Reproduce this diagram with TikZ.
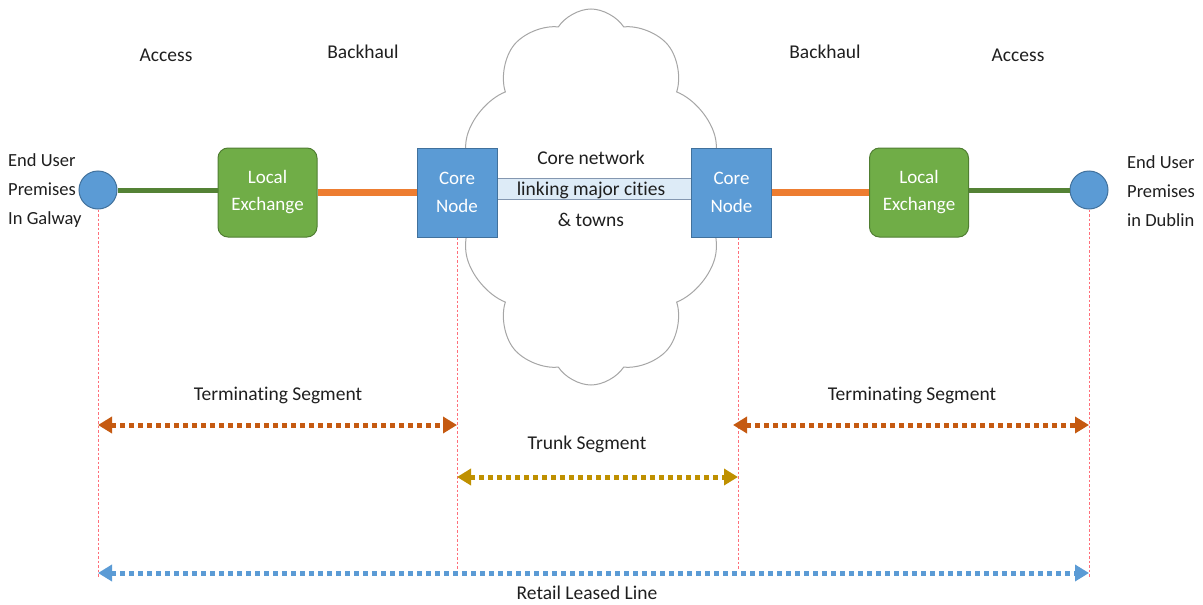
\documentclass[tikz,border=0pt]{standalone}
\usepackage{fontspec}
\setmainfont{Carlito}[Ligatures=NoCommon]
\usetikzlibrary{shapes.symbols,arrows.meta,calc}

\definecolor{txt}{HTML}{1F1F1F}
\definecolor{nodeblue}{HTML}{5B9BD5}
\definecolor{nodeblueD}{HTML}{41719C}
\definecolor{exgreen}{HTML}{70AD47}
\definecolor{exgreenD}{HTML}{507E32}
\definecolor{linegreen}{HTML}{548235}
\definecolor{lineorange}{HTML}{ED7D31}
\definecolor{barfill}{HTML}{DDEBF7}
\definecolor{barline}{HTML}{8497B0}
\definecolor{cloudgray}{HTML}{A6A6A6}
\definecolor{guidered}{HTML}{FF6F7A}
\definecolor{termc}{HTML}{C55A11}
\definecolor{trunkc}{HTML}{BF9000}
\definecolor{retailc}{HTML}{5B9BD5}

\begin{document}
\begin{tikzpicture}[x=1pt, y=-1pt,
  lbl/.style={font=\fontsize{19.5}{23}\selectfont, text=txt, inner sep=0pt},
  sidelbl/.style={font=\fontsize{18.5}{22}\selectfont, text=txt, inner sep=0pt,
    align=left, anchor=west},
  endpt/.style={circle, fill=nodeblue, draw=nodeblueD, line width=1pt,
    minimum size=38pt, inner sep=0pt},
  exch/.style={rectangle, rounded corners=10pt, fill=exgreen, draw=exgreenD,
    line width=1pt, minimum width=99pt, minimum height=89pt, text=white,
    align=center, font=\fontsize{19}{27}\selectfont},
  corebox/.style={rectangle, fill=nodeblue, draw=nodeblueD, line width=1pt,
    minimum width=80pt, minimum height=89pt, text=white,
    align=center, font=\fontsize{19}{28}\selectfont},
  linkbar/.style={rectangle, fill=barfill, draw=barline, line width=1pt,
    minimum height=21pt, inner sep=0pt},
  accessline/.style={draw=linegreen, line width=5pt},
  backhaulline/.style={draw=lineorange, line width=7pt},
  guide/.style={draw=guidered, line width=0.8pt, dash pattern=on 2.5pt off 2pt},
  span/.style={line width=5pt, dash pattern=on 4.5pt off 4.5pt,
    {Triangle[length=14pt,width=16pt]}-{Triangle[length=14pt,width=16pt]}}
]
\useasboundingbox (0,0) rectangle (1203,605);

% cloud behind the core network
\node[cloud, cloud puffs=10, cloud puff arc=115, cloud ignores aspect,
  minimum width=262pt, minimum height=376pt, draw=cloudgray, fill=white,
  line width=1pt] (cloud) at (591,197) {};

% heading labels
\node[lbl] (accL) at (166,55) {Access};
\node[lbl] (bhL) at (363,52) {Backhaul};
\node[lbl] (bhR) at (825,52) {Backhaul};
\node[lbl] (accR) at (1018,55) {Access};

% chain of nodes
\node[endpt] (galway) at (98,190) {};
\node[exch] (exL) at (267.5,192.5) {Local\\Exchange};
\node[corebox] (coreL) at (457,192.5) {};
\node[corebox] (coreR) at (731.5,192.5) {};
\node[exch] (exR) at (919,192.5) {Local\\Exchange};
\node[endpt] (dublin) at (1089,190) {};

% core link bar between the core nodes
\node[linkbar, minimum width=196pt] (link) at ($(coreL.east)!0.5!(coreR.west)+(0,-4)$) {};
\node[corebox] at (coreL) {Core\\Node};
\node[corebox] at (coreR) {Core\\Node};

\node[lbl, align=center, font=\fontsize{19.5}{31}\selectfont] (coretxt) at (591,189)
  {Core network\\linking major cities\\\& towns};

% end user labels
\node[sidelbl] (galtxt) at (8,191)
  {End User\\[7pt]Premises\\[7pt]In Galway};
\node[sidelbl] (dubtxt) at (1127,191)
  {End User\\[7pt]Premises\\[7pt]in Dublin};

% links
\draw[accessline] (galway.east) -- (galway.east -| exL.west);
\draw[backhaulline] (exL.east) -- (coreL.west);
\draw[backhaulline] (coreR.east) -- (exR.west);
\draw[accessline] (exR.east |- dublin) -- (dublin.west);

% rows of the segment arrows
\coordinate (rowT) at (0,425);
\coordinate (rowK) at (0,477);
\coordinate (rowR) at (0,573);
\coordinate (rowEnd) at (0,578);
\coordinate (rowMid) at (0,569);
\coordinate (gR) at ([xshift=6.5pt]coreR.south);

% vertical guides
\draw[guide] (galway.south) -- (galway |- rowEnd);
\draw[guide] (coreL.south) -- (coreL |- rowMid);
\draw[guide] (gR) -- (gR |- rowMid);
\draw[guide] (dublin.south) -- (dublin |- rowEnd);

% segment arrows
\draw[span, termc] (galway |- rowT) -- (coreL |- rowT);
\draw[span, trunkc] (coreL |- rowK) -- (gR |- rowK);
\draw[span, termc] ([xshift=-5pt]gR |- rowT) -- (dublin |- rowT);
\draw[span, retailc] (galway |- rowR) -- (dublin |- rowR);

% segment labels
\node[lbl] (termLtxt) at (278,395) {Terminating Segment};
\node[lbl] (termRtxt) at (912,395) {Terminating Segment};
\node[lbl] (trunktxt) at (587,444) {Trunk Segment};
\node[lbl] (retailtxt) at (587,593) {Retail Leased Line};
\end{tikzpicture}
\end{document}
